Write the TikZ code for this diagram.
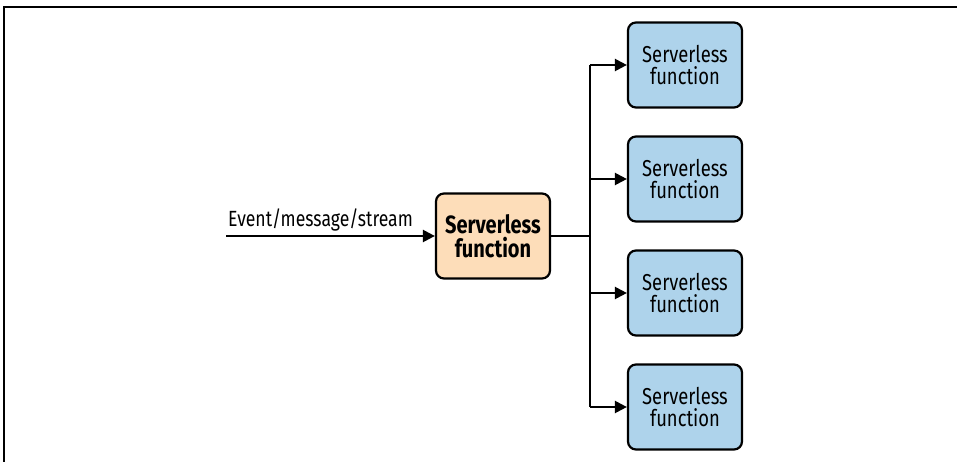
\documentclass[tikz,border=0pt]{standalone}
\usepackage{fontspec}
\setmainfont{Fira Sans}[FakeStretch=0.8]
\usetikzlibrary{arrows.meta}
\definecolor{peach}{HTML}{FDDDB9}
\definecolor{paleblue}{HTML}{AED3EB}
\tikzset{
  fnbox/.style={draw=black, line width=2.2pt, rounded corners=8pt,
    minimum width=114pt, minimum height=85pt, align=center, inner sep=0pt,
    font=\fontsize{23}{19}\selectfont},
  mainfn/.style={fnbox, fill=peach, font=\bfseries\fontsize{25}{21}\selectfont},
  workerfn/.style={fnbox, fill=paleblue},
  flow/.style={line width=2.2pt, -{Triangle[length=12pt,width=12pt]}},
  link/.style={line width=2.2pt},
  frame/.style={line width=1.8pt}
}
\newcommand{\fnlabel}{Serverless\\[3pt]function}
\begin{document}
\begin{tikzpicture}[x=1pt,y=-1pt]
\useasboundingbox (0,0) rectangle (957,462);
% page frame
\draw[frame] (4,462) -- (4,7) -- (957,7);

% central function
\node[mainfn] (main) at (493,236) {\fnlabel};

% fan-out targets
\node[workerfn] (w1) at (685,65) {\fnlabel};
\node[workerfn] (w2) at (685,179) {\fnlabel};
\node[workerfn] (w3) at (685,293) {\fnlabel};
\node[workerfn] (w4) at (685,407) {\fnlabel};

% incoming event
\coordinate (src) at (226,236);
\draw[flow] (src) -- (main.west);
\node[anchor=south west, inner sep=0pt, font=\fontsize{22}{22}\selectfont]
  (evt) at (228,231) {Event/message/stream};

% branching trunk
\coordinate (split) at (590,236);
\draw[link] (main.east) -- (split);
\draw[link] (split |- w1.west) -- (split |- w4.west);
\foreach \w in {w1,w2,w3,w4}
  \draw[flow] (split |- \w.west) -- (\w.west);
\end{tikzpicture}
\end{document}
